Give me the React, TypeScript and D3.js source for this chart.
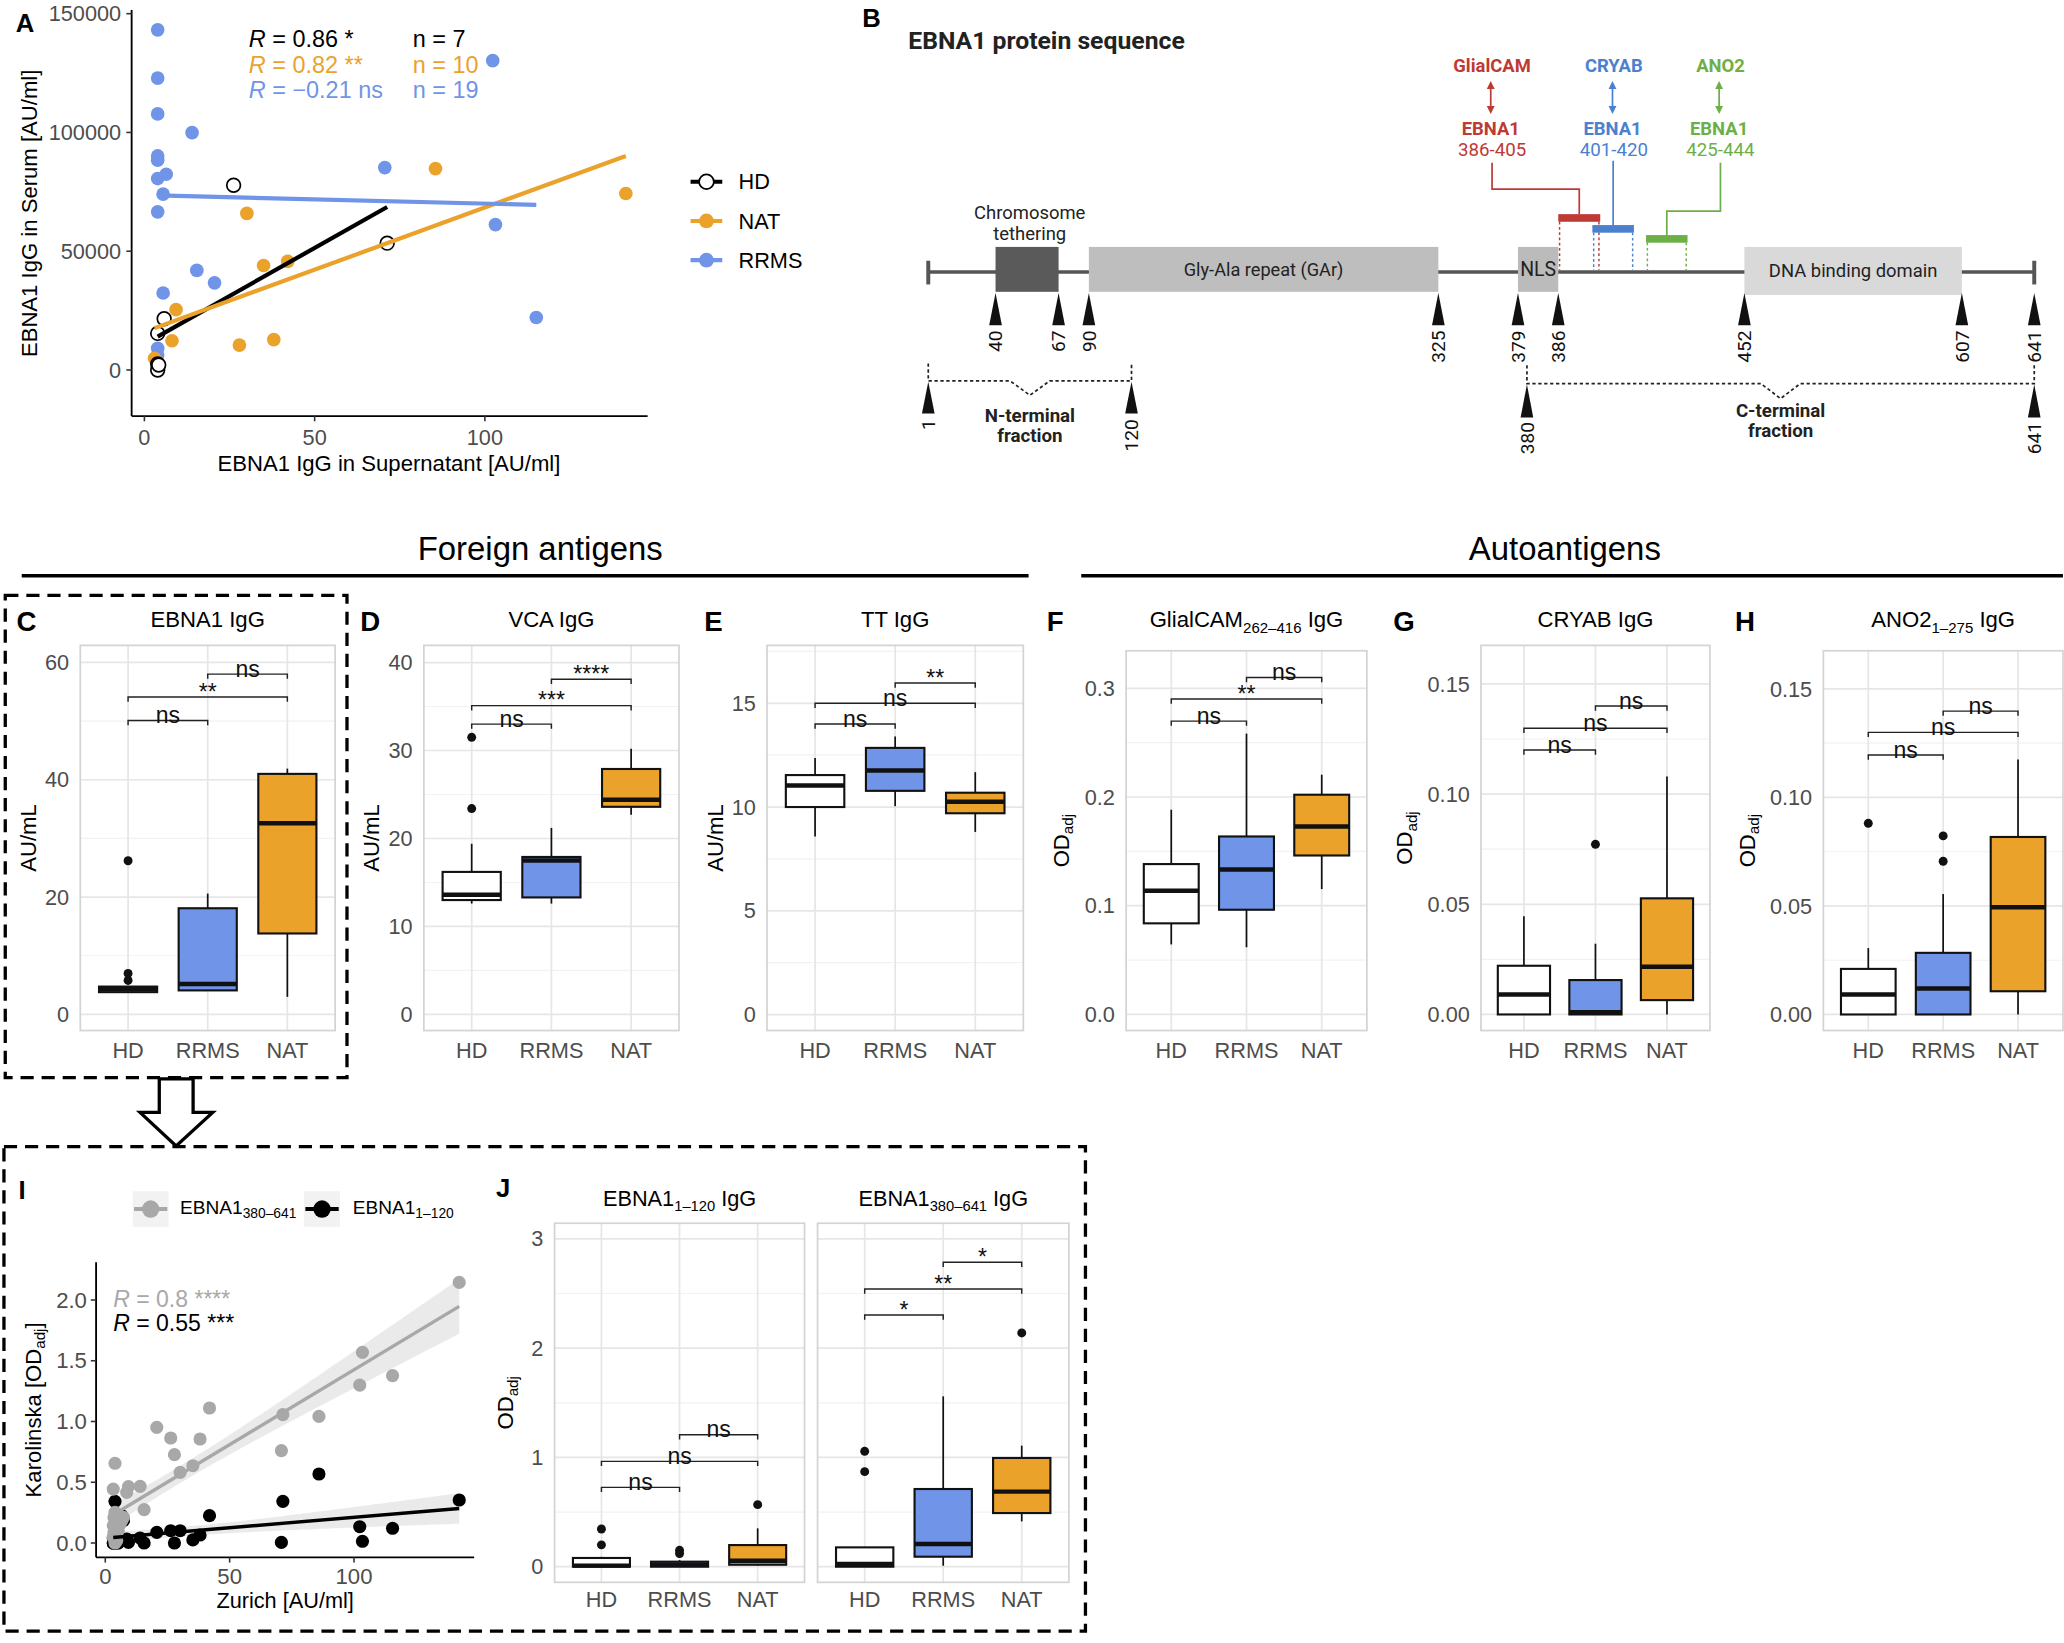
import React, { useEffect } from "react";
import * as d3 from "d3";

const FONT = "'Liberation Sans', Arial, Helvetica, sans-serif";
const BFONT = "Roboto, 'Liberation Sans', Arial, sans-serif";
const GRAY_TXT = "#4D4D4D";
const COL_HD = "#000000";
const COL_NAT = "#EAA22B";
const COL_RRMS = "#6F94E8";

// ---------------- Panel A data ----------------
const aHdX = [26.2, 71.3, 5.8, 3.9, 3.9, 3.9, 4.2];
const aHdY = [77800, 53400, 21600, 15400, 2500, 0, 2100];
const aNatX = [3.0, 8.1, 9.3, 27.9, 38.0, 35.0, 42.1, 30.1, 85.5, 141.4];
const aNatY = [4900, 12300, 25400, 10500, 12800, 44000, 45700, 65900, 84800, 74300];
const aRrmsX = [3.9, 3.9, 3.9, 14.0, 3.9, 3.9, 3.9, 6.4, 5.5, 3.9, 102.3, 70.6, 103.1, 115.1, 15.4, 20.6, 5.5, 3.9, 3.9];
const aRrmsY = [143200, 122900, 107800, 99900, 90100, 88300, 80600, 82400, 74000, 66600, 130200, 85200, 61200, 22100, 41900, 36700, 32400, 9100, 6300];
const aLegend = ["HD", "NAT", "RRMS"];
const aStatR = ["0.86", "0.82", "\u22120.21"];
const aStatP = ["*", "**", "ns"];
const aStatN = [7, 10, 19];
const aXTicks = [0, 50, 100];
const aYTicks = [0, 50000, 100000, 150000];

// ---------------- Panel B data ----------------
const bResidues = [1, 40, 67, 90, 120, 325, 379, 380, 386, 401, 405, 420, 425, 444, 452, 607, 641];
const bDomains = [
  { name: "Chromosome tethering", start: 40, end: 67 },
  { name: "Gly-Ala repeat (GAr)", start: 90, end: 325 },
  { name: "NLS", start: 379, end: 386 },
  { name: "DNA binding domain", start: 452, end: 607 },
];
const bMarks = [40, 67, 90, 325, 379, 386, 452, 607, 641];
const bFractions = [
  { name: "N-terminal", start: 1, end: 120 },
  { name: "C-terminal", start: 380, end: 641 },
];
const bEpitopes = [
  { target: "GlialCAM", start: 386, end: 405, color: "#BE3A34" },
  { target: "CRYAB", start: 401, end: 420, color: "#4B80CF" },
  { target: "ANO2", start: 425, end: 444, color: "#6DAF47" },
];

// ---------------- Box plot data (order HD, RRMS, NAT) ----------------
const groups = ["HD", "RRMS", "NAT"];
const groupFill = ["#FFFFFF", COL_RRMS, COL_NAT];
// [lower whisker, q1, median, q3, upper whisker]
const ebna1Box = [[3.7, 3.8, 4.3, 4.75, 4.8], [4.0, 4.1, 5.2, 18.1, 20.6], [3.0, 13.8, 32.6, 41.0, 41.9]];
const ebna1Out = [[26.2, 7.0, 5.8], [], []];
const ebna1Sig: [string, string, number, string][] = [["HD", "RRMS", 50.1, "ns"], ["HD", "NAT", 54.1, "**"], ["RRMS", "NAT", 58.0, "ns"]];

const vcaBox = [[12.6, 13.0, 13.6, 16.2, 19.4], [12.6, 13.3, 17.5, 17.9, 21.2], [22.7, 23.6, 24.4, 27.9, 30.2]];
const vcaOut = [[31.5, 23.4], [], []];
const vcaSig: [string, string, number, string][] = [["HD", "RRMS", 33.0, "ns"], ["HD", "NAT", 35.1, "***"], ["RRMS", "NAT", 38.1, "****"]];

const ttBox = [[8.58, 10.0, 11.04, 11.54, 12.36], [10.04, 10.78, 11.76, 12.85, 13.4], [8.8, 9.7, 10.26, 10.69, 11.68]];
const ttOut = [[], [], []];
const ttSig: [string, string, number, string][] = [["HD", "RRMS", 14.0, "ns"], ["HD", "NAT", 15.0, "ns"], ["RRMS", "NAT", 15.98, "**"]];

const glialBox = [[0.0644, 0.0838, 0.1137, 0.1383, 0.1883], [0.0618, 0.0963, 0.1334, 0.1637, 0.2583], [0.1153, 0.1462, 0.1729, 0.2021, 0.2205]];
const glialOut = [[], [], []];
const glialSig: [string, string, number, string][] = [["HD", "RRMS", 0.2698, "ns"], ["HD", "NAT", 0.2902, "**"], ["RRMS", "NAT", 0.3099, "ns"]];

const cryabBox = [[0, 0, 0.0091, 0.0221, 0.0446], [0, 0, 0.001, 0.0156, 0.0321], [0, 0.0065, 0.0216, 0.0527, 0.108]];
const cryabOut = [[], [0.0772], []];
const cryabSig: [string, string, number, string][] = [["HD", "RRMS", 0.12, "ns"], ["HD", "NAT", 0.1299, "ns"], ["RRMS", "NAT", 0.14, "ns"]];

const ano2Box = [[0, 0, 0.0092, 0.021, 0.0306], [0, 0, 0.012, 0.0284, 0.0555], [0, 0.0107, 0.0494, 0.0818, 0.1175]];
const ano2Out = [[0.0881], [0.0823, 0.0706], []];
const ano2Sig: [string, string, number, string][] = [["HD", "RRMS", 0.1196, "ns"], ["HD", "NAT", 0.13, "ns"], ["RRMS", "NAT", 0.1398, "ns"]];

const nTermBox = [[0, 0, 0.01, 0.08, 0.09], [0, 0, 0.018, 0.046, 0.06], [0.01, 0.018, 0.055, 0.198, 0.351]];
const nTermOut = [[0.345, 0.2], [0.15, 0.12], [0.568]];
const nTermSig: [string, string, number, string][] = [["HD", "RRMS", 0.726, "ns"], ["HD", "NAT", 0.964, "ns"], ["RRMS", "NAT", 1.208, "ns"]];

const cTermBox = [[0, 0, 0.024, 0.177, 0.177], [0.009, 0.0915, 0.207, 0.711, 1.559], [0.415, 0.491, 0.687, 0.995, 1.108]];
const cTermOut = [[1.056, 0.87], [], [2.139]];
const cTermSig: [string, string, number, string][] = [["HD", "RRMS", 2.304, "*"], ["HD", "NAT", 2.542, "**"], ["RRMS", "NAT", 2.786, "*"]];

// ---------------- Panel I data ----------------
const iZurich = [142.3, 103.4, 102.3, 115.5, 71.4, 85.9, 70.8, 41.9, 20.7, 26.3, 38.1, 27.8, 35.2, 30.1, 15.6, 14.0, 9.3, 8.6, 3.9, 3.2,
  3.9, 4.6, 6.6, 3.2, 5.2, 3.9, 4.6, 3.9, 5.9, 7.3, 3.2, 4.3, 3.5, 4.8, 3.5, 4.1];
const iCterm = [2.145, 1.569, 1.3, 1.377, 1.056, 1.042, 0.76, 1.111, 0.952, 0.864, 0.856, 0.727, 0.636, 0.581, 0.274, 0.466, 0.464, 0.417, 0.656, 0.444,
  0.252, 0.197, 0.184, 0.143, 0.101, 0.06, 0.019, 0.0, 0.156, 0.211, 0.047, 0.115, 0.21, 0.238, 0.088, 0.03];
const iNterm = [0.354, 0.014, 0.134, 0.121, 0.343, 0.568, 0.005, 0.225, 0.088, 0.101, 0.066, 0.0, 0.025, 0.101, 0.0, 0.041, 0.005, 0.033, 0.343, 0.041,
  0.02, 0.0, 0.225, 0.0, 0.0, 0.03, 0.01, 0.0, 0.02, 0.184, 0.0, 0.04, 0.01, 0.05, 0.0, 0.02];
const iXTicks = [0, 50, 100];
const iYTicks = [0, 0.5, 1.0, 1.5, 2.0];
const COL_CTERM = "#A8A8A8";
const COL_NTERM = "#000000";

// ---------------- helpers ----------------
function linreg(xs: number[], ys: number[]) {
  const n = xs.length;
  const mx = d3.mean(xs) as number;
  const my = d3.mean(ys) as number;
  let sxy = 0, sxx = 0;
  xs.forEach((v, i) => { sxy += (v - mx) * (ys[i] - my); sxx += (v - mx) * (v - mx); });
  const b = sxy / sxx;
  const a = my - b * mx;
  let sse = 0;
  xs.forEach((v, i) => { const r = ys[i] - (a + b * v); sse += r * r; });
  const s = Math.sqrt(sse / (n - 2));
  return { a, b, mx, sxx, n, s };
}

function PanelA() {
  const x = d3.scaleLinear().domain([-3.75, 147.8]).range([100, 492]);
  const y = d3.scaleLinear().domain([-19400, 151500]).range([316, 7.6]);
  const sets = [
    { xs: aHdX, ys: aHdY, col: COL_HD, hollow: true },
    { xs: aNatX, ys: aNatY, col: COL_NAT, hollow: false },
    { xs: aRrmsX, ys: aRrmsY, col: COL_RRMS, hollow: false },
  ];
  const statCols = [COL_HD, COL_NAT, COL_RRMS];
  const legendCols = [COL_HD, COL_NAT, COL_RRMS];
  const drawOrder = [2, 1, 0];
  return (
    <g>
      <text x={12} y={24} fontSize={19.5} fontWeight="bold">A</text>
      {drawOrder.map((k) => {
        const s = sets[k];
        return (
          <g key={"pts" + k}>
            {s.xs.map((v, i) => (
              <circle key={i} cx={x(v)} cy={y(s.ys[i])} r={5.2}
                fill={s.hollow ? "#fff" : s.col} stroke={s.hollow ? "#000" : "none"} strokeWidth={1.3} />
            ))}
          </g>
        );
      })}
      {sets.map((s, k) => {
        const f = linreg(s.xs, s.ys);
        const x0 = d3.min(s.xs) as number, x1 = d3.max(s.xs) as number;
        return <line key={"fit" + k} x1={x(x0)} y1={y(f.a + f.b * x0)} x2={x(x1)} y2={y(f.a + f.b * x1)}
          stroke={s.col} strokeWidth={3.2} />;
      })}
      <line x1={100} y1={7.6} x2={100} y2={316} stroke="#000" strokeWidth={1.4} />
      <line x1={100} y1={316} x2={492} y2={316} stroke="#000" strokeWidth={1.4} />
      {aYTicks.map((t) => (
        <g key={"yt" + t}>
          <line x1={96} x2={100} y1={y(t)} y2={y(t)} stroke="#333" strokeWidth={1.2} />
          <text x={92} y={y(t)} dy="0.35em" textAnchor="end" fontSize={16.5} fill={GRAY_TXT}>{d3.format("d")(t)}</text>
        </g>
      ))}
      {aXTicks.map((t) => (
        <g key={"xt" + t}>
          <line x1={x(t)} x2={x(t)} y1={316} y2={320} stroke="#333" strokeWidth={1.2} />
          <text x={x(t)} y={338} textAnchor="middle" fontSize={16.5} fill={GRAY_TXT}>{t}</text>
        </g>
      ))}
      <text x={295.5} y={358} textAnchor="middle" fontSize={16.8}>EBNA1 IgG in Supernatant [AU/ml]</text>
      <text transform="translate(28,162) rotate(-90)" textAnchor="middle" fontSize={16.8}>EBNA1 IgG in Serum [AU/ml]</text>
      {aStatR.map((r, i) => (
        <g key={"st" + i} fill={statCols[i]} fontSize={17.8}>
          <text x={189} y={35.5 + i * 19.6}><tspan fontStyle="italic">R</tspan> = {r} {aStatP[i]}</text>
          <text x={313.5} y={35.5 + i * 19.6}>n = {aStatN[i]}</text>
        </g>
      ))}
      {aLegend.map((g, i) => {
        const cy = 138 + i * 29.8;
        return (
          <g key={"lg" + g}>
            <line x1={524.6} x2={548.7} y1={cy} y2={cy} stroke={legendCols[i]} strokeWidth={3.2} />
            <circle cx={536.7} cy={cy} r={5.6} fill={i === 0 ? "#fff" : legendCols[i]} stroke={i === 0 ? "#000" : "none"} strokeWidth={1.3} />
            <text x={561} y={cy} dy="0.35em" fontSize={16.5}>{g}</text>
          </g>
        );
      })}
    </g>
  );
}

function PanelB() {
  const pos = d3.scaleLinear().domain(bResidues)
    .range([705.2, 756.3, 804.2, 827.2, 859.6, 1092.7, 1153.2, 1160, 1183.8, 1209.7, 1215.7, 1241.3, 1250.5, 1282, 1325.2, 1490.4, 1545.4]);
  const lineY = 206.5;
  const domStyle = [
    { fill: "#5A5A5A", y0: 187.5, y1: 221.6 },
    { fill: "#BEBEBE", y0: 187.5, y1: 221.6 },
    { fill: "#BBBBBB", y0: 187.5, y1: 221.6 },
    { fill: "#D9D9D9", y0: 187.5, y1: 224 },
  ];
  const epiLayout = [
    { labelX: 1133.5, barY: 165.5, elbowY: 143.6 },
    { labelX: 1226, barY: 173.8, elbowY: null as number | null },
    { labelX: 1307, barY: 181.4, elbowY: 160.3 },
  ];
  const tri = (cx: number, tip: number, base: number, hw = 4.8) => `M${cx},${tip}L${cx - hw},${base}L${cx + hw},${base}Z`;
  const fracLayout = [
    { topY: 276, hy: 289.3, notch: 300.2, arrowTip: 290, arrowBase: 314, labelTop: 318.5, t1: 320.5, t2: 335.8 },
    { topY: 277.4, hy: 291.3, notch: 302.7, arrowTip: 292, arrowBase: 317, labelTop: 320.5, t1: 316.6, t2: 332 },
  ];
  return (
    <g fontFamily={BFONT}>
      <text x={655} y={20.5} fontSize={19.5} fontWeight="bold" fontFamily={FONT}>B</text>
      <text x={690} y={37} fontSize={18.8} fontWeight="bold" fill="#222">EBNA1 protein sequence</text>
      <line x1={pos(1)} x2={pos(641)} y1={lineY} y2={lineY} stroke="#555" strokeWidth={2.6} />
      <line x1={pos(1)} x2={pos(1)} y1={198} y2={216} stroke="#555" strokeWidth={3} />
      <line x1={pos(641)} x2={pos(641)} y1={198} y2={216} stroke="#555" strokeWidth={3} />
      {bDomains.map((d, i) => (
        <rect key={d.name} x={pos(d.start)} y={domStyle[i].y0} width={pos(d.end) - pos(d.start)} height={domStyle[i].y1 - domStyle[i].y0} fill={domStyle[i].fill} />
      ))}
      <text x={(pos(40) + pos(67)) / 2 + 2} y={166} textAnchor="middle" fontSize={14} fill="#222">Chromosome</text>
      <text x={(pos(40) + pos(67)) / 2 + 2} y={182} textAnchor="middle" fontSize={14} fill="#222">tethering</text>
      <text x={(pos(90) + pos(325)) / 2} y={209.5} textAnchor="middle" fontSize={13.8} fill="#222">Gly-Ala repeat (GAr)</text>
      <text x={(pos(379) + pos(386)) / 2} y={209.5} textAnchor="middle" fontSize={14.8} fill="#222">NLS</text>
      <text x={(pos(452) + pos(607)) / 2} y={210} textAnchor="middle" fontSize={14} fill="#222">DNA binding domain</text>
      {bMarks.map((m) => (
        <g key={"m" + m}>
          <path d={tri(pos(m), 222.5, 247)} fill="#111" />
          <text transform={`translate(${pos(m) + 5.2},251) rotate(-90)`} textAnchor="end" fontSize={14.5} fill="#111">{m}</text>
        </g>
      ))}
      {bFractions.map((f, i) => {
        const L = fracLayout[i];
        const xa = pos(f.start), xb = pos(f.end), xm = (xa + xb) / 2;
        const d = `M${xa},${L.topY}V${L.hy}H${xm - 15}L${xm},${L.notch}L${xm + 15},${L.hy}H${xb}V${L.topY}`;
        return (
          <g key={f.name}>
            <path d={d} fill="none" stroke="#222" strokeWidth={1.3} strokeDasharray="2.5,2" />
            {[f.start, f.end].map((r) => (
              <g key={r}>
                <path d={tri(pos(r), L.arrowTip, L.arrowBase)} fill="#111" />
                <text transform={`translate(${pos(r) + 5.2},${L.labelTop}) rotate(-90)`} textAnchor="end" fontSize={14.5} fill="#111">{r}</text>
              </g>
            ))}
            <text x={xm} y={L.t1} textAnchor="middle" fontSize={14.2} fontWeight="bold" fill="#222">{f.name}</text>
            <text x={xm} y={L.t2} textAnchor="middle" fontSize={14.2} fontWeight="bold" fill="#222">fraction</text>
          </g>
        );
      })}
      {bEpitopes.map((e, i) => {
        const L = epiLayout[i];
        const xa = pos(e.start), xb = pos(e.end), xm = (xa + xb) / 2;
        const conn = L.elbowY === null
          ? `M${xm},${L.barY - 2.9}V122`
          : `M${xm},${L.barY - 2.9}V${L.elbowY}H${L.labelX}V123.5`;
        const ax = L.labelX - 1;
        return (
          <g key={e.target}>
            <line x1={xa + 1} x2={xa + 1} y1={L.barY + 2.9} y2={205} stroke={e.color} strokeWidth={1.1} strokeDasharray="2,2" />
            <line x1={xb - 1} x2={xb - 1} y1={L.barY + 2.9} y2={205} stroke={e.color} strokeWidth={1.1} strokeDasharray="2,2" />
            <rect x={xa} y={L.barY - 2.9} width={xb - xa} height={5.8} fill={e.color} />
            <path d={conn} fill="none" stroke={e.color} strokeWidth={1.3} />
            <text x={L.labelX} y={54.5} textAnchor="middle" fontSize={14} fontWeight="bold" fill={e.color}>{e.target}</text>
            <line x1={ax} x2={ax} y1={65} y2={83} stroke={e.color} strokeWidth={1.3} />
            <path d={`M${ax},61.5L${ax - 3},67.5L${ax + 3},67.5Z`} fill={e.color} />
            <path d={`M${ax},86.5L${ax - 3},80.5L${ax + 3},80.5Z`} fill={e.color} />
            <text x={L.labelX - 1} y={102.6} textAnchor="middle" fontSize={14} fontWeight="bold" fill={e.color}>EBNA1</text>
            <text x={L.labelX} y={118.3} textAnchor="middle" fontSize={14.2} fill={e.color}>{`${e.start}-${e.end}`}</text>
          </g>
        );
      })}
    </g>
  );
}

type SigT = [string, string, number, string];
function BoxPanel(p: {
  x0: number; x1: number; y0: number; y1: number; domain: [number, number];
  ticks: number[]; minor: number[]; fmt: (v: number) => string;
  stats: number[][]; outliers: number[][]; sig: SigT[]; showY?: boolean; tip?: number; labelY: number;
}) {
  const x = d3.scalePoint<string>().domain(groups).range([p.x0, p.x1]).padding(0.6);
  const y = d3.scaleLinear().domain(p.domain).range([p.y1, p.y0]);
  const bw = x.step() * 0.73;
  const tip = p.tip ?? 3.6;
  const inside = (v: number) => y(v) > p.y0 && y(v) < p.y1;
  return (
    <g>
      <rect x={p.x0} y={p.y0} width={p.x1 - p.x0} height={p.y1 - p.y0} fill="#fff" />
      {p.minor.filter(inside).map((t) => (
        <line key={"mi" + t} x1={p.x0} x2={p.x1} y1={y(t)} y2={y(t)} stroke="#F2F2F2" strokeWidth={0.9} />
      ))}
      {p.ticks.filter(inside).map((t) => (
        <line key={"ma" + t} x1={p.x0} x2={p.x1} y1={y(t)} y2={y(t)} stroke="#E6E6E6" strokeWidth={1.3} />
      ))}
      {groups.map((g) => (
        <line key={"vg" + g} x1={x(g)} x2={x(g)} y1={p.y0} y2={p.y1} stroke="#E6E6E6" strokeWidth={1.3} />
      ))}
      <rect x={p.x0} y={p.y0} width={p.x1 - p.x0} height={p.y1 - p.y0} fill="none" stroke="#D3D3D3" strokeWidth={1.3} />
      {groups.map((g, i) => {
        const s = p.stats[i];
        const cx = x(g) as number;
        return (
          <g key={"bx" + g}>
            <line x1={cx} x2={cx} y1={y(s[0])} y2={y(s[1])} stroke="#111" strokeWidth={1.3} />
            <line x1={cx} x2={cx} y1={y(s[3])} y2={y(s[4])} stroke="#111" strokeWidth={1.3} />
            <rect x={cx - bw / 2} y={y(s[3])} width={bw} height={Math.max(0.5, y(s[1]) - y(s[3]))} fill={groupFill[i]} stroke="#111" strokeWidth={1.6} />
            <line x1={cx - bw / 2} x2={cx + bw / 2} y1={y(s[2])} y2={y(s[2])} stroke="#111" strokeWidth={3.4} />
            {p.outliers[i].map((o, j) => (
              <circle key={j} cx={cx} cy={y(o)} r={3.4} fill="#111" />
            ))}
          </g>
        );
      })}
      {p.sig.map(([a, b, v, lab], i) => {
        const xa = x(a) as number, xb = x(b) as number, yy = y(v);
        return (
          <g key={"sg" + i}>
            <path d={`M${xa},${yy + tip}V${yy}H${xb}V${yy + tip}`} fill="none" stroke="#222" strokeWidth={1.1} />
            <text x={(xa + xb) / 2} y={yy + 2} textAnchor="middle" fontSize={17.5} fill="#111">{lab}</text>
          </g>
        );
      })}
      {p.showY !== false && p.ticks.map((t) => (
        <text key={"yl" + t} x={p.x0 - 8.5} y={y(t)} dy="0.35em" textAnchor="end" fontSize={16.5} fill={GRAY_TXT}>{p.fmt(t)}</text>
      ))}
      {groups.map((g) => (
        <text key={"xl" + g} x={x(g)} y={p.labelY} textAnchor="middle" fontSize={16.5} fill={GRAY_TXT}>{g}</text>
      ))}
    </g>
  );
}

const fmt0 = d3.format("d");
const fmt1 = d3.format(".1f");
const fmt2 = d3.format(".2f");

function TitleSub({ x, y, main, sub, rest, fs = 16.8 }: { x: number; y: number; main: string; sub?: string; rest?: string; fs?: number }) {
  return (
    <text x={x} y={y} textAnchor="middle" fontSize={fs}>
      {main}
      {sub && <tspan fontSize={fs * 0.68} dy={4}>{sub}</tspan>}
      {sub && <tspan dy={-4}>{rest}</tspan>}
      {!sub && rest}
    </text>
  );
}

function ODTitle({ x, y, prefix = "", suffix = "" }: { x: number; y: number; prefix?: string; suffix?: string }) {
  return (
    <text transform={`translate(${x},${y}) rotate(-90)`} textAnchor="middle" fontSize={16.8}>
      {prefix}OD<tspan fontSize={11.5} dy={3.5}>adj</tspan><tspan dy={-3.5}>{suffix}</tspan>
    </text>
  );
}

function BoxRow() {
  const panels = [
    { L: "C", lx: 12.5, x0: 61, x1: 254.6, y0: 490.2, domain: [-2.74, 62.9] as [number, number], ticks: [0, 20, 40, 60], minor: [10, 30, 50], fmt: fmt0, stats: ebna1Box, out: ebna1Out, sig: ebna1Sig, title: ["EBNA1 IgG"], yt: "AU", ytx: 27.5 },
    { L: "D", lx: 273.6, x0: 322, x1: 515.8, y0: 490.2, domain: [-1.83, 41.95] as [number, number], ticks: [0, 10, 20, 30, 40], minor: [5, 15, 25, 35], fmt: fmt0, stats: vcaBox, out: vcaOut, sig: vcaSig, title: ["VCA IgG"], yt: "AU", ytx: 288 },
    { L: "E", lx: 535, x0: 582.7, x1: 777.4, y0: 490.2, domain: [-0.77, 17.79] as [number, number], ticks: [0, 5, 10, 15], minor: [2.5, 7.5, 12.5, 17.5], fmt: fmt0, stats: ttBox, out: ttOut, sig: ttSig, title: ["TT IgG"], yt: "AU", ytx: 549 },
    { L: "F", lx: 795.3, x0: 855.5, x1: 1038.4, y0: 494.3, domain: [-0.0148, 0.3345] as [number, number], ticks: [0, 0.1, 0.2, 0.3], minor: [0.05, 0.15, 0.25], fmt: fmt1, stats: glialBox, out: glialOut, sig: glialSig, title: ["GlialCAM", "262\u2013416", " IgG"], yt: "OD", ytx: 812 },
    { L: "G", lx: 1058.5, x0: 1125.1, x1: 1299, y0: 490.2, domain: [-0.0073, 0.1675] as [number, number], ticks: [0, 0.05, 0.1, 0.15], minor: [0.025, 0.075, 0.125], fmt: fmt2, stats: cryabBox, out: cryabOut, sig: cryabSig, title: ["CRYAB IgG"], yt: "OD", ytx: 1073 },
    { L: "H", lx: 1318, x0: 1385.2, x1: 1567.2, y0: 494.3, domain: [-0.0074, 0.1676] as [number, number], ticks: [0, 0.05, 0.1, 0.15], minor: [0.025, 0.075, 0.125], fmt: fmt2, stats: ano2Box, out: ano2Out, sig: ano2Sig, title: ["ANO2", "1\u2013275", " IgG"], yt: "OD", ytx: 1333 },
  ];
  const y1 = 782.8;
  return (
    <g>
      {panels.map((p) => {
        const cx = (p.x0 + p.x1) / 2;
        const cy = (p.y0 + y1) / 2;
        return (
          <g key={p.L}>
            <BoxPanel x0={p.x0} x1={p.x1} y0={p.y0} y1={y1} domain={p.domain} ticks={p.ticks} minor={p.minor} fmt={p.fmt}
              stats={p.stats} outliers={p.out} sig={p.sig} labelY={803.7} />
            <text x={p.lx} y={479.3} fontSize={21} fontWeight="bold">{p.L}</text>
            <TitleSub x={cx} y={476.6} main={p.title[0]} sub={p.title[1]} rest={p.title[2]} />
            {p.yt === "AU"
              ? <text transform={`translate(${p.ytx},${cy}) rotate(-90)`} textAnchor="middle" fontSize={16.8}>AU/mL</text>
              : <ODTitle x={p.ytx} y={cy} />}
          </g>
        );
      })}
    </g>
  );
}

function Headers() {
  return (
    <g>
      <text x={410.4} y={425} textAnchor="middle" fontSize={25}>Foreign antigens</text>
      <line x1={16.5} x2={781.4} y1={437.3} y2={437.3} stroke="#000" strokeWidth={2.8} />
      <text x={1188.8} y={425} textAnchor="middle" fontSize={25}>Autoantigens</text>
      <line x1={821.4} x2={1567.2} y1={437.3} y2={437.3} stroke="#000" strokeWidth={2.8} />
    </g>
  );
}

function Frames() {
  return (
    <g fill="none" stroke="#000" strokeWidth={2.5} strokeDasharray="10,6">
      <rect x={4} y={452.2} width={259.6} height={366.4} />
      <rect x={3} y={871} width={821.6} height={368} />
      <path d="M121,819.5V845H106.4L133.8,870.5L161.6,845H146.7V819.5Z" fill="#fff" strokeDasharray="none" strokeWidth={2.5} strokeLinejoin="miter" />
    </g>
  );
}

function PanelI() {
  const x = d3.scaleLinear().domain([-3.7, 148.3]).range([73, 360.2]);
  const y = d3.scaleLinear().domain([-0.118, 2.31]).range([1183, 958.9]);
  const sets = [
    { ys: iNterm, col: COL_NTERM },
    { ys: iCterm, col: COL_CTERM },
  ];
  const tq = 2.032;
  const x0 = d3.min(iZurich) as number, x1 = d3.max(iZurich) as number;
  const grid = d3.range(0, 81).map((k) => x0 + (x1 - x0) * k / 80);
  const fits = sets.map((s) => linreg(iZurich, s.ys));
  return (
    <g>
      <text x={14} y={910.7} fontSize={19.5} fontWeight="bold">I</text>
      {[{ lab: "380\u2013641", col: COL_CTERM, kx: 100.8, tx: 136.8 }, { lab: "1\u2013120", col: COL_NTERM, kx: 231, tx: 268 }].map((l) => (
        <g key={l.lab}>
          <rect x={l.kx} y={904.9} width={27.3} height={27} fill="#F2F2F2" />
          <line x1={l.kx + 1} x2={l.kx + 26.3} y1={918.4} y2={918.4} stroke={l.col} strokeWidth={3} />
          <circle cx={l.kx + 13.65} cy={918.4} r={6.6} fill={l.col} />
          <text x={l.tx} y={922} fontSize={14.5}>EBNA1<tspan fontSize={10.5} dy={3.5}>{l.lab}</tspan></text>
        </g>
      ))}
      {fits.map((f, k) => {
        const se = (v: number) => tq * f.s * Math.sqrt(1 / f.n + (v - f.mx) ** 2 / f.sxx);
        const band = d3.area<number>()
          .x((v) => x(v))
          .y0((v) => y(f.a + f.b * v - se(v)))
          .y1((v) => y(f.a + f.b * v + se(v)))(grid);
        return <path key={"band" + k} d={band || ""} fill="#E3E3E3" opacity={0.75} />;
      })}
      {sets.map((s, k) => (
        <g key={"p" + k}>
          {iZurich.map((v, i) => (
            <circle key={i} cx={x(v)} cy={y(s.ys[i])} r={5} fill={s.col} />
          ))}
        </g>
      ))}
      {fits.map((f, k) => (
        <line key={"fl" + k} x1={x(x0)} y1={y(f.a + f.b * x0)} x2={x(x1)} y2={y(f.a + f.b * x1)} stroke={sets[k].col} strokeWidth={2.6} />
      ))}
      <line x1={73} x2={73} y1={958.9} y2={1183} stroke="#000" strokeWidth={1.4} />
      <line x1={73} x2={360.2} y1={1183} y2={1183} stroke="#000" strokeWidth={1.4} />
      {iYTicks.map((t) => (
        <g key={"iy" + t}>
          <line x1={69} x2={73} y1={y(t)} y2={y(t)} stroke="#333" strokeWidth={1.2} />
          <text x={66} y={y(t)} dy="0.35em" textAnchor="end" fontSize={16.8} fill={GRAY_TXT}>{fmt1(t)}</text>
        </g>
      ))}
      {iXTicks.map((t) => (
        <g key={"ix" + t}>
          <line x1={x(t)} x2={x(t)} y1={1183} y2={1187} stroke="#333" strokeWidth={1.2} />
          <text x={x(t)} y={1203.5} textAnchor="middle" fontSize={16.8} fill={GRAY_TXT}>{t}</text>
        </g>
      ))}
      <text x={216.6} y={1221.5} textAnchor="middle" fontSize={16.5}>Zurich [AU/ml]</text>
      <ODTitle x={31} y={1071} prefix="Karolinska [" suffix="]" />
      <text x={86} y={992.5} fontSize={17.5} fill={COL_CTERM}><tspan fontStyle="italic">R</tspan> = 0.8 ****</text>
      <text x={86} y={1010.8} fontSize={17.5} fill="#000"><tspan fontStyle="italic">R</tspan> = 0.55 ***</text>
    </g>
  );
}

function PanelJ() {
  const dom: [number, number] = [-0.143, 3.143];
  const y0 = 929.2, y1 = 1202;
  return (
    <g>
      <text x={376.8} y={909.5} fontSize={19.5} fontWeight="bold">J</text>
      <BoxPanel x0={421.3} x1={611.2} y0={y0} y1={y1} domain={dom} ticks={[0, 1, 2, 3]} minor={[0.5, 1.5, 2.5]} fmt={fmt0}
        stats={nTermBox} outliers={nTermOut} sig={nTermSig} labelY={1221} />
      <BoxPanel x0={621.1} x1={812} y0={y0} y1={y1} domain={dom} ticks={[0, 1, 2, 3]} minor={[0.5, 1.5, 2.5]} fmt={fmt0}
        stats={cTermBox} outliers={cTermOut} sig={cTermSig} showY={false} labelY={1221} />
      <TitleSub x={516.3} y={915.8} main="EBNA1" sub={"1\u2013120"} rest=" IgG" fs={16.5} />
      <TitleSub x={716.6} y={915.8} main="EBNA1" sub={"380\u2013641"} rest=" IgG" fs={16.5} />
      <ODTitle x={390} y={(y0 + y1) / 2} />
    </g>
  );
}

export default function App() {
  useEffect(() => {
    document.body.style.margin = "0";
    document.body.style.overflow = "hidden";
  }, []);
  return (
    <svg width={2064} height={1643} viewBox="0 0 1568 1248" style={{ position: "absolute", left: 0, top: 0, display: "block" }}
      fontFamily={FONT}>
      <rect width={1568} height={1248} fill="#fff" />
      <PanelA />
      <PanelB />
      <Headers />
      <BoxRow />
      <Frames />
      <PanelI />
      <PanelJ />
    </svg>
  );
}
